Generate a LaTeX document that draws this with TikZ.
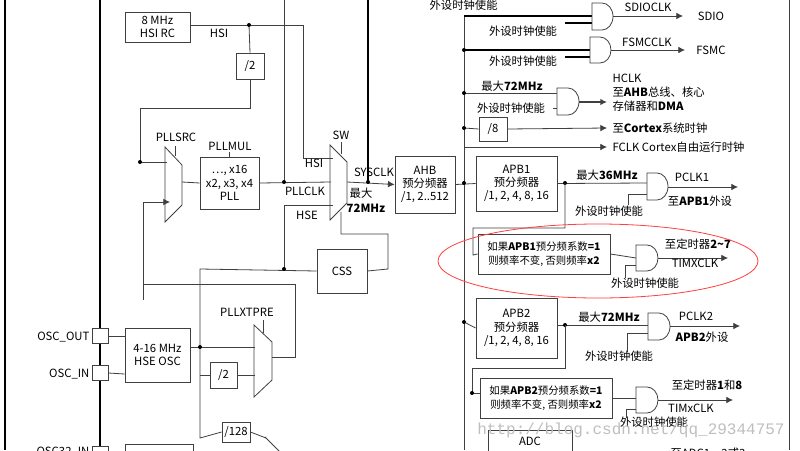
\documentclass[tikz,border=0pt]{standalone}
\usepackage{fontspec}
\usetikzlibrary{arrows.meta}
\setmainfont{Noto Sans CJK SC}
\setmonofont{Liberation Mono}
\begin{document}
\begin{tikzpicture}[x=0.75pt,y=-0.75pt,font=\fontsize{8.5}{10}\selectfont,
 ln/.style={draw=black!75,line width=0.6pt},
 tk/.style={draw=black,line width=1.2pt},
 bx/.style={draw=black!75,line width=0.6pt,inner sep=0pt,align=center,fill=white},
 arr/.style={ln,-{Latex[length=5pt,width=5pt]}},
 dot/.style={circle,fill=black,inner sep=0pt,minimum size=3pt},
 lb/.style={inner sep=1pt}]
\useasboundingbox (0,0) rectangle (800,450);
\clip (0,0) rectangle (800,450);
\fill[white] (0,0) rectangle (800,450);
% borders and thick lines
\draw[tk] (5,0) -- (5,450);
\draw[tk] (100,0) -- (100,450);
\draw[ln] (789,0) -- (789,450);
% boxes
\node[bx,minimum width=48.75pt,minimum height=22.5pt] (hsi) at (157.5,27) {8 MHz\\HSI RC};
\node[bx,minimum width=21pt,minimum height=19.5pt] (d2a) at (250,66) {/2};
\node[bx,minimum width=44.25pt,minimum height=39pt] (pll) at (229.5,183) {…, x16\\x2, x3, x4\\PLL};
\node[bx,minimum width=45pt,minimum height=42.75pt] (ahb) at (425,184.5) {AHB\\预分频器\\/1, 2..512};
\node[bx,minimum width=60.75pt,minimum height=41.25pt] (apb1) at (516.5,183.5) {APB1\\预分频器\\/1, 2, 4, 8, 16};
\node[bx,minimum width=37.5pt,minimum height=33pt] (css) at (342,271) {CSS};
\node[bx,minimum width=48.75pt,minimum height=40.5pt] (hse) at (157.5,355) {4-16 MHz\\HSE OSC};
\node[bx,minimum width=20.25pt,minimum height=19.5pt] (d2b) at (223.5,375) {/2};
\node[bx,minimum width=21pt,minimum height=15pt] (d128) at (236,432) {/128};
\node[bx,minimum width=21pt,minimum height=18pt] (d8) at (493,129) {/8};
\node[bx,minimum width=99pt,minimum height=30pt,font=\fontsize{7.8}{10}\selectfont] (t1) at (544,254) {如果\textbf{APB1}预分频系数\textbf{=1}\\则频率不变, 否则频率\textbf{x2}};
\node[bx,minimum width=60.75pt,minimum height=45pt] (apb2) at (516.5,328) {APB2\\预分频器\\/1, 2, 4, 8, 16};
\node[bx,minimum width=99pt,minimum height=30pt,font=\fontsize{7.8}{10}\selectfont] (t8) at (546,398) {如果\textbf{APB2}预分频系数\textbf{=1}\\则频率不变, 否则频率\textbf{x2}};
\draw[ln] (488,430) rectangle (572,470);
\node[lb] (adc) at (530,441) {ADC};
\draw[ln] (125,444) rectangle (193,470);
\node[bx,minimum width=12pt,minimum height=11pt] (po) at (100,336) {};
\node[bx,minimum width=12pt,minimum height=11pt] (pi) at (100,373) {};
\node[bx,minimum width=12pt,minimum height=8pt] (p32) at (100,452) {};
\node[lb,anchor=east] (lpo) at (91,337) {OSC\_OUT};
\node[lb,anchor=east] (lpi) at (91,374) {OSC\_IN};
\node[lb,anchor=east] (lp32) at (91,452) {OSC32\_IN};
% muxes
\draw[ln] (165,147) -- (182,165) -- (182,205) -- (165,222) -- cycle;
\draw[ln] (330,145) -- (347,162) -- (347,203) -- (330,220) -- cycle;
\draw[ln] (254,325) -- (272,342) -- (272,380) -- (254,397) -- cycle;
\draw[ln] (265,437) -- (280,452);
\draw[ln] (175,156) -- (175,146);
\draw[ln] (341,154) -- (341,142);
\draw[ln] (263,333) -- (263,320);
\draw[ln] (229.5,157) -- (229.5,152);
\node[lb] (lpllsrc) at (176,137) {PLLSRC};
\node[lb] (lpllmul) at (230,146) {PLLMUL};
\node[lb] (lsw) at (341,135) {SW};
\node[lb] (lxt) at (247,312) {PLLXTPRE};
% HSI path
\coordinate (hsidot) at (249,25);
\draw[ln] (hsi.east |- 0,25) -- (303,25) -- (303,158) -- (333,158);
\node[lb] (lhsi) at (219,33) {HSI};
\node[lb] (lhsi2) at (314,163) {HSI};
\draw[ln] (hsidot) -- (d2a.north);
\draw[ln] (d2a.south) -- (250,108) -- (140,108) -- (140,162) -- (167,162);
\node[dot] at (hsidot) {};
\node[dot] at (140,162) {};
\draw[arr] (143,300) -- (143,202) -- (170,202);
% PLL
\draw[ln] (182,182) -- (pll.west);
\draw[ln] (pll.east) -- (331,182);
\draw[ln] (284,0) -- (284,182);
\node[dot] at (284,182) {};
\node[lb] (lpllclk) at (305,191) {PLLCLK};
\draw[ln] (284,205) -- (333,205);
\draw[ln] (284,205) -- (284,269);
\node[lb] (lhse) at (307,215) {HSE};
% SYSCLK
\draw[tk] (368,0) -- (368,182);
\draw[arr] (347,182) -- (ahb.west);
\node[dot] at (368,182) {};
\node[lb] (lsys) at (374,172) {SYSCLK};
\node[lb] (lmax) at (361,193) {最大};
\node[lb,font=\fontsize{8.5}{10}\selectfont\bfseries] (l72) at (366,208) {72MHz};
% CSS
\draw[ln] (css.west) -- (200,269) -- (200,438) -- (d128.west);
\node[dot] at (284,269) {};
\draw[ln] (d128.east) -- (266,438);
\draw[ln] (css.east) -- (388,269) -- (388,234) -- (341,234) -- (341,212);
% HSE
\draw[ln] (po.east) -- (hse.west |- 0,336);
\draw[ln] (pi.east) -- (hse.west |- 0,374);
\draw[ln] (hse.east |- 0,347) -- (255,347);
\node[dot] at (200,347) {};
\draw[ln] (200,375) -- (d2b.west);
\draw[ln] (d2b.east) -- (255,375);
\draw[ln] (272,357) -- (295,357) -- (295,284) -- (143,284) -- (143,300);
% bus
\draw[ln] (464,16) -- (464,450);
\node[lb,anchor=west] (ltop) at (428,5) {外设时钟使能};
% gates
\newcommand\andg[4]{\draw[ln,fill=white] (#1,#2) -- (#1+#4,#2) arc[start angle=-90,end angle=90,x radius=11,y radius={(#3-#2)/2}] -- (#1,#3) -- cycle;}
\draw[tk] (464,16) -- (592,16); \draw[tk] (565,23) -- (592,23);
\andg{592}{3}{30}{10}
\draw[arr] (613,16) -- (683,16);
\node[lb] (l1) at (648,7) {SDIOCLK}; \node[lb] (l2) at (711,16) {SDIO};
\node[lb] (l3) at (523,31) {外设时钟使能};
\draw[tk] (464,50) -- (590,50); \draw[tk] (565,57) -- (590,57);
\andg{590}{37}{63}{10}
\node[dot] at (464,50) {};
\draw[arr] (611,50) -- (685,50);
\node[lb] (l4) at (647,42) {FSMCCLK}; \node[lb] (l5) at (711,50) {FSMC};
\node[lb] (l6) at (523,61) {外设时钟使能};
\draw[ln] (464,93) -- (557,93); \draw[ln] (553,108) -- (557,108);
\andg{557}{88}{115}{11}
\node[dot] at (464,93) {};
\draw[arr,line width=1pt] (579,102) -- (607,102);
\node[lb] (l7) at (512,86) {最大\textbf{72MHz}};
\node[lb] (l8) at (511,108) {外设时钟使能};
\node[lb,anchor=north west,align=left,font=\fontsize{8.5}{10.5}\selectfont] (l9) at (611,72) {HCLK\\至\textbf{AHB}总线、核心\\存储器和\textbf{DMA}};
\draw[ln] (464,128) -- (d8.west); \node[dot] at (464,128) {};
\draw[arr] (d8.east) -- (607,128);
\node[lb,anchor=west] (l10) at (611,128) {至\textbf{Cortex}系统时钟};
\draw[arr] (464,147) -- (607,147);
\node[lb,anchor=west] (l11) at (611,147) {FCLK Cortex自由运行时钟};
% AHB to APB1
\draw[ln] (ahb.east) -- (apb1.west); \node[dot] at (464,183) {};
\draw[ln] (apb1.east) -- (647,183); \node[dot] at (565,183) {};
\andg{647}{173}{200}{10}
\draw[ln] (628,205) -- (628,194) -- (647,194);
\draw[arr] (668,187) -- (738,187);
\node[lb] (l12) at (607,175) {最大\textbf{36MHz}};
\node[lb] (l13) at (692,177) {PCLK1};
\node[lb] (l14) at (700,201) {至\textbf{APB1}外设};
\node[lb] (l15) at (609,211) {外设时钟使能};
\draw[ln] (565,183) -- (565,228) -- (473,228) -- (473,255) -- (t1.west);
\draw[ln] (t1.east) -- (636,258);
\andg{636}{245}{271}{11}
\draw[ln] (625,278) -- (625,265) -- (636,265);
\draw[arr] (658,258) -- (728,258);
\node[lb] (l16) at (698,244) {至定时器\textbf{2\textasciitilde7}};
\node[lb] (l17) at (695,263) {TIMXCLK};
\node[lb] (l18) at (645,283) {外设时钟使能};
\draw[red!75,line width=0.6pt] (598,261) ellipse [x radius=160, y radius=37];
% APB2
\draw[ln] (464,322) -- (apb2.west); \node[dot] at (464,322) {};
\draw[ln] (apb2.east |- 0,325) -- (648,325); \node[dot] at (565,325) {};
\andg{648}{313}{340}{11}
\draw[ln] (627,352) -- (627,333) -- (648,333);
\draw[arr] (670,326) -- (740,326);
\node[lb] (l19) at (609,317) {最大\textbf{72MHz}};
\node[lb] (l20) at (696,316) {PCLK2};
\node[lb] (l21) at (702,337) {\textbf{APB2}外设};
\node[lb] (l22) at (619,356) {外设时钟使能};
\draw[ln] (565,325) -- (565,368) -- (472,368) -- (472,393) -- (t8.west |- 0,393);
\node[dot] at (472,393) {};
\draw[ln] (t8.east) -- (636,398);
\andg{636}{387}{413}{11}
\draw[ln] (626,418) -- (626,409) -- (636,409);
\draw[arr] (658,400) -- (733,400);
\node[lb] (l23) at (707,385) {至定时器\textbf{1}和\textbf{8}};
\node[lb] (l24) at (691,408) {TIMxCLK};
\node[lb] (l25) at (654,422) {外设时钟使能};
\node[lb] (l26) at (708,453) {至ADC1、2或3};
\node[lb,text=black!25,font=\ttfamily\fontsize{12}{12}\selectfont] (wm) at (631,430) {http://blog.csdn.net/qq\_29344757};
\end{tikzpicture}
\end{document}
